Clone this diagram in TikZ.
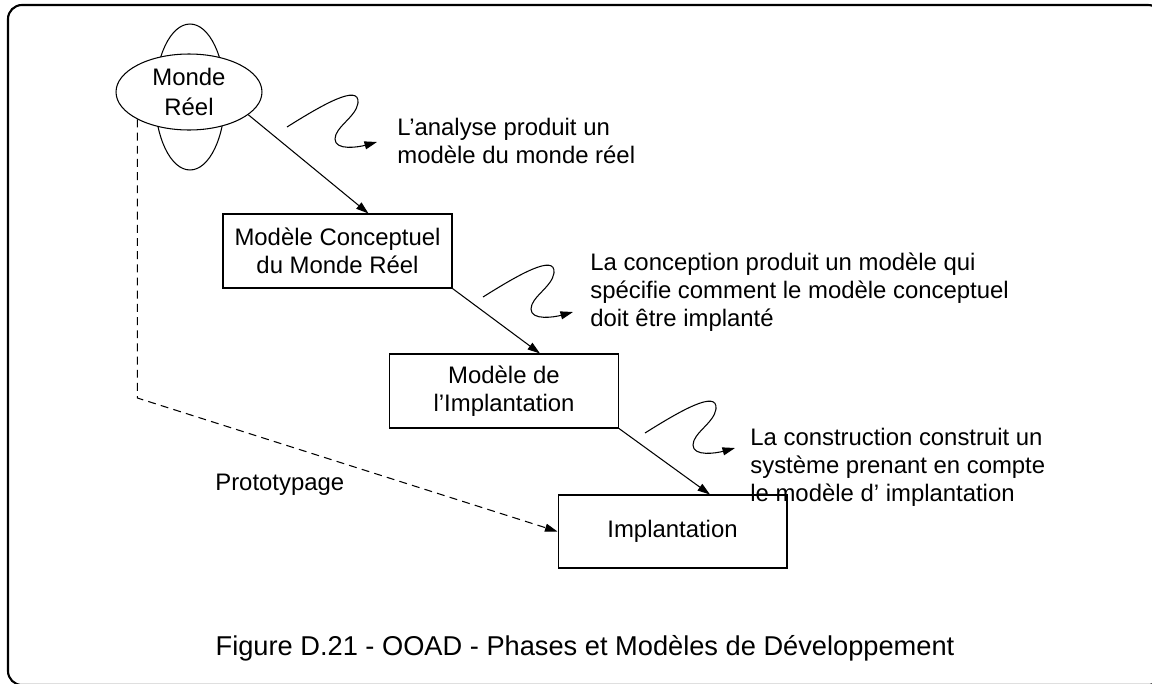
\documentclass[tikz,border=0pt]{standalone}
\usepackage{fontspec}
\setmainfont{Liberation Sans}
\usetikzlibrary{arrows.meta,shapes.geometric,positioning}

\begin{document}
\begin{tikzpicture}[
  x=0.02cm, y=-0.02cm,
  font=\fontsize{13.6}{16}\selectfont,
  box/.style={draw, line width=0.6pt, minimum width=4.58cm, minimum height=1.48cm, align=center, inner sep=2pt},
  note/.style={anchor=west, align=left, inner sep=0pt},
  arr/.style={-{Triangle[length=2.5mm, width=1.6mm]}, line width=0.6pt},
  wiggle/.pic={\draw[arr] (0,0) .. controls (35,-22) and (73,-44) .. (71,-24) .. controls (69,-10) and (48,0) .. (48,12) .. controls (48,24) and (72,20) .. (90,15);}
]
\useasboundingbox (0,0) rectangle (1152,683);
\clip (0,0) rectangle (1152,683);
\draw[line width=1.2pt, rounded corners=0.28cm] (8,5) rectangle (1162,685);

\node[ellipse, draw, line width=0.6pt, minimum width=1.4cm, minimum height=2.92cm] (monde-v) at (190,97) {};
\node[ellipse, draw, fill=white, line width=0.6pt, minimum width=2.92cm, minimum height=1.52cm, inner sep=0pt, align=center] (monde) at (189,92) {Monde\\[1pt]Réel};

\node[box] (cmr) at (337.5,251) {Modèle Conceptuel\\du Monde Réel};
\node[box] (mi) at (504,391) {Modèle de\\l’Implantation};
\node[box, minimum height=1.46cm] (impl) at (672.5,531.5) {Implantation};

\node[note] (t-analyse) at (397,141) {L’analyse produit un\\modèle du monde réel};
\node[note] (t-conception) at (590,292) {La conception produit un modèle qui\\spécifie comment le modèle conceptuel\\doit être implanté};
\node[note] (t-construction) at (750,467) {La construction construit un\\système prenant en compte\\le modèle d’ implantation};
\node[anchor=base west, inner sep=0pt] (t-proto) at (215,490) {Prototypage};
\node[anchor=base, inner sep=0pt, font=\fontsize{15.5}{18}\selectfont] (caption) at (585,655) {Figure D.21 - OOAD - Phases et Modèles de Développement};

\coordinate (proto) at (137,398);
\coordinate (w1) at (287,127);
\coordinate (w2) at (483,297);
\coordinate (w3) at (645,433);

\draw[arr] (monde.-21) -- ([xshift=0.62cm]cmr.north);
\draw[arr] (cmr.south east) -- ([xshift=0.72cm]mi.north);
\draw[arr] (mi.south east) -- ([xshift=0.75cm]impl.north);
\draw[arr, dash pattern=on 4.5pt off 3pt] (monde.208) -- (monde.208 |- proto) -- (impl.west);

\pic at (w1) {wiggle};
\pic at (w2) {wiggle};
\pic at (w3) {wiggle};
\end{tikzpicture}
\end{document}
